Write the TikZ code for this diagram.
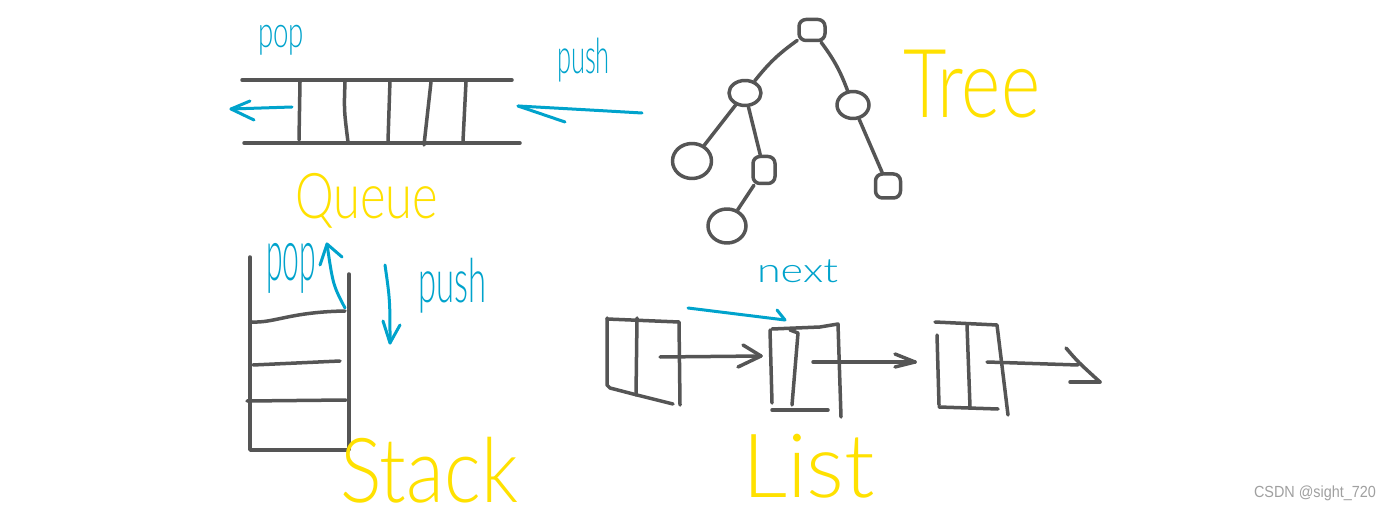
\documentclass[tikz,border=0pt]{standalone}
\usepackage{fontspec}
\usepackage{graphicx}
\IfFontExistsTF{Lato Light}{\setmainfont{Lato Light}}{\setmainfont{Lato}}
\newfontfamily\wmfont{Liberation Sans}
\usetikzlibrary{shapes.geometric}
\definecolor{inkc}{HTML}{555555}
\definecolor{penc}{HTML}{00A3CC}
\definecolor{hic}{HTML}{FFE100}
\definecolor{wmc}{HTML}{A0A0A0}
\newcommand\fitword[3]{\resizebox*{#1pt}{#2pt}{#3}}
\begin{document}
\begin{tikzpicture}[x=1pt,y=-1pt,line cap=round,line join=round,
  ink/.style={draw=inkc,line width=3.5pt},
  bluepen/.style={draw=penc,line width=3pt},
  word/.style={anchor=north west,inner sep=0pt,outer sep=0pt},
  bluew/.style={word,text=penc},
  yelw/.style={word,text=hic},
  tbox/.style={ink,rectangle,rounded corners=7pt,inner sep=0pt},
  tell/.style={ink,ellipse,inner sep=0pt}]
\fill[white] (0,0) rectangle (1391,510);
\useasboundingbox (0,0) rectangle (1391,510);

% ---------- Queue ----------
\draw[ink] (242,80) -- (512,80);
\draw[ink] (244,143) -- (520,143);
\draw[ink] (300,82) -- (299,140);
\draw[ink] (345,82) .. controls (344,110) .. (348,142);
\draw[ink] (390,80) -- (388,141);
\draw[ink] (431,82) -- (424,145);
\draw[ink] (466,82) -- (463,141);
\coordinate (qpopS) at (292,107);
\coordinate (qpopT) at (231,109);
\draw[bluepen] (qpopS) -- (qpopT);
\draw[bluepen] (250,101) -- (qpopT) -- (254,120);
\coordinate (qpushS) at (642,113);
\coordinate (qpushT) at (518,106);
\draw[bluepen] (qpushS) .. controls (590,110) .. (qpushT);
\draw[bluepen] (qpushT) -- (565,122);
\node[bluew] (qpop) at (258,25) {\fitword{46}{30}{pop}};
\node[bluew] (qpush) at (557,38) {\fitword{53}{44}{push}};
\node[yelw] (queue) at (295,173) {\fitword{143}{55}{Queue}};

% ---------- Tree ----------
\node[tbox,minimum width=26pt,minimum height=21pt] (root) at (812,30) {};
\node[tell,minimum width=32pt,minimum height=25pt] (lc) at (745,93) {};
\node[tell,minimum width=32pt,minimum height=27pt] (rc) at (853,105) {};
\node[tell,minimum width=39pt,minimum height=35pt] (ll) at (692,161) {};
\node[tbox,minimum width=22pt,minimum height=27pt] (lr) at (764,170) {};
\node[tell,minimum width=38pt,minimum height=34pt] (lrl) at (727,226) {};
\node[tbox,minimum width=25pt,minimum height=24pt] (rr) at (888,186) {};
\draw[ink] (root) to[bend right=8] (lc);
\draw[ink] (root) to[bend left=8] (rc);
\draw[ink] (lc) -- (ll);
\draw[ink] (lc) -- (lr);
\draw[ink] (lr) -- (lrl);
\draw[ink] (rc) -- (rr);
\node[yelw] (tree) at (903,50) {\fitword{137}{68}{Tree}};

% ---------- Stack ----------
\draw[ink] (250,257) -- (250,450) -- (349,450) -- (349,274);
\draw[ink] (252,322) .. controls (275,323) and (290,312) .. (345,311);
\draw[ink] (253,365) -- (340,361);
\draw[ink] (247,401) -- (346,400);
\coordinate (spopS) at (345,308);
\coordinate (spopT) at (327,244);
\draw[bluepen] (spopS) .. controls (333,285) .. (spopT);
\draw[bluepen] (320,265) -- (spopT) -- (342,257);
\coordinate (spushS) at (385,265);
\coordinate (spushT) at (390,343);
\draw[bluepen] (spushS) .. controls (390,300) .. (spushT);
\draw[bluepen] (383,321) -- (spushT) -- (400,325);
\node[bluew] (spop) at (266,243) {\fitword{50}{50}{pop}};
\node[bluew] (spush) at (418,258) {\fitword{68}{55}{push}};
\node[yelw] (stack) at (340,437) {\fitword{178}{66}{Stack}};

% ---------- List ----------
% node 1
\draw[ink] (607,318) -- (607,385) -- (610,388) -- (637,395) -- (673,404);
\draw[ink] (607,319) -- (679,322) -- (680,405);
\draw[ink] (637,318) -- (636,395);
\coordinate (a1S) at (660,357);
\coordinate (a1T) at (761,356);
\draw[ink] (a1S) -- (a1T);
\draw[ink] (743,345) -- (a1T) -- (738,367);
% node 2
\draw[ink] (772,403) -- (770,330);
\draw[ink] (772,329) -- (820,327) -- (838,324) -- (841,417);
\draw[ink] (790,330) -- (798,333) -- (792,405);
\draw[ink] (772,410) -- (828,410);
\coordinate (a2S) at (813,362);
\coordinate (a2T) at (915,362);
\draw[ink] (a2S) -- (a2T);
\draw[ink] (895,354) -- (a2T) -- (895,367);
% node 3
\draw[ink] (935,322) -- (997,325) -- (1008,415);
\draw[ink] (937,335) -- (939,405);
\draw[ink] (939,407) -- (998,409);
\draw[ink] (967,325) -- (970,407);
\coordinate (a3S) at (987,362);
\coordinate (a3T) at (1100,382);
\draw[ink] (a3S) -- (1078,365);
\draw[ink] (1066,348) .. controls (1078,362) .. (a3T);
\draw[ink] (1070,382) -- (a3T);
% next arrow
\coordinate (nS) at (688,308);
\coordinate (nT) at (785,320);
\draw[bluepen] (nS) -- (nT);
\draw[bluepen] (777,310) -- (nT);
\node[bluew] (next) at (757,260) {\fitword{81}{23}{next}};
\node[yelw] (list) at (742,434) {\fitword{133}{64}{List}};

% watermark
\node[word,text=wmc] (wm) at (1254,486) {\fitword{122}{15}{\wmfont CSDN @sight\_720}};
\end{tikzpicture}
\end{document}
